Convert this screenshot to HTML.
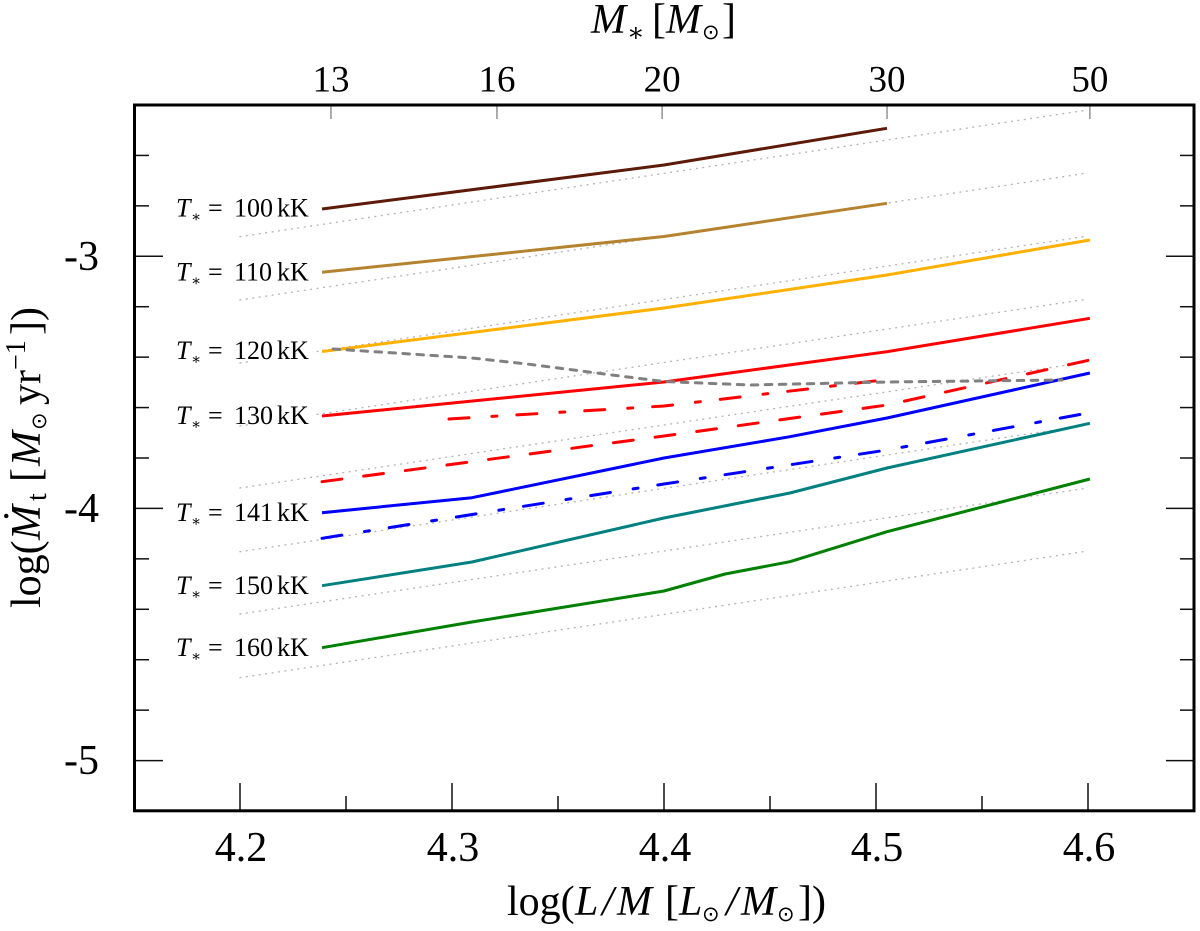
<!DOCTYPE html>
<html>
<head>
<meta charset="utf-8">
<title>Mass-loss rate versus L/M</title>
<style>
html,body{margin:0;padding:0;background:#fff;}
svg{display:block;font-family:"Liberation Serif","DejaVu Serif",serif;fill:#000;}
.sun{font-family:"DejaVu Sans",sans-serif;font-size:21px;}
.it{font-style:italic;}
</style>
</head>
<body>
<svg id="chart" xmlns="http://www.w3.org/2000/svg" width="1200" height="931" viewBox="0 0 1200 931">
  <rect x="0" y="0" width="1200" height="931" fill="#fff"/>
  <g id="dotted"></g>
  <g id="boxes"></g>
  <g id="series"></g>
  <g id="labels"></g>
  <g id="ticks"></g>
  <rect x="134.5" y="105" width="1059.5" height="705.8" fill="none" stroke="#000" stroke-width="3"/>
  <g id="ticklabels"></g>

  <text y="33" font-size="42"><tspan class="it" x="591">M</tspan><tspan font-size="26" x="627" y="41">∗</tspan><tspan x="652" y="33">[</tspan><tspan class="it" x="666">M</tspan><tspan class="sun" x="702" y="39">⊙</tspan><tspan x="722" y="33">]</tspan></text>

  <text y="915" font-size="42"><tspan x="507">log(</tspan><tspan class="it" x="575">L</tspan><tspan class="it" x="602">/</tspan><tspan class="it" x="617">M</tspan><tspan x="665">[</tspan><tspan class="it" x="679">L</tspan><tspan class="sun" x="702" y="921">⊙</tspan><tspan class="it" x="726" y="915">/</tspan><tspan class="it" x="741">M</tspan><tspan class="sun" x="777" y="921">⊙</tspan><tspan x="798" y="915">])</tspan></text>

  <g transform="translate(40,608) rotate(-90)">
    <text y="0" font-size="42"><tspan x="0">log(</tspan><tspan class="it" x="68">M</tspan><tspan x="85" y="-8">˙</tspan><tspan font-size="28" x="107" y="6">t</tspan><tspan x="126" y="0">[</tspan><tspan class="it" x="142">M</tspan><tspan class="sun" x="178" y="6">⊙</tspan><tspan x="203" y="0">yr</tspan><tspan font-size="28" x="238" y="-15">−1</tspan><tspan x="273" y="0">])</tspan></text>
  </g>
</svg>
<script>
// Axis domain
const xDomain = [4.15, 4.65];
const yDomain = [-5.2, -2.4];

// Tick values and labels
const xMajorTicks = [4.2, 4.3, 4.4, 4.5, 4.6];
const xMajorLabels = ["4.2", "4.3", "4.4", "4.5", "4.6"];
const xMinorTicks = [4.25, 4.35, 4.45, 4.55];
const yMajorTicks = [-3, -4, -5];
const yMajorLabels = ["-3", "-4", "-5"];
const yMinorTicks = [-2.6, -2.8, -3.2, -3.4, -3.6, -3.8, -4.2, -4.4, -4.6, -4.8];
const topTicks = [4.2429, 4.3212, 4.3991, 4.5052, 4.6009];
const topLabels = ["13", "16", "20", "30", "50"];

// Dotted reference lines: log Mdot at log(L/M) = 4.2 and 4.6
const dottedX = [4.2, 4.6];
const dottedStart = [-2.9223, -3.1733, -3.4232, -3.6730, -3.9189, -4.1716, -4.4187, -4.6713];
const dottedEnd = [-2.4198, -2.6696, -2.9195, -3.1694, -3.4192, -3.6691, -3.9189, -4.1688];

// Series values
const t100X = [4.2387, 4.4, 4.5052];
const t100Y = [-2.8124, -2.6379, -2.4923];
const t110X = [4.2387, 4.4, 4.5052];
const t110Y = [-3.0635, -2.9215, -2.7898];
const t120X = [4.2387, 4.4, 4.5052, 4.6009];
const t120Y = [-3.3776, -3.2050, -3.0742, -2.9354];
const t130X = [4.2387, 4.4, 4.5052, 4.6009];
const t130Y = [-3.6334, -3.4985, -3.3784, -3.2459];
const t130DashDotX = [4.2986, 4.4, 4.5033];
const t130DashDotY = [-3.6453, -3.5937, -3.4906];
const t130DashedX = [4.2387, 4.4, 4.5052, 4.6009];
const t130DashedY = [-3.8940, -3.7127, -3.5897, -3.4113];
const t141X = [4.2387, 4.3094, 4.4, 4.4594, 4.5052, 4.6009];
const t141Y = [-4.0169, -3.9574, -3.7999, -3.7155, -3.6413, -3.4628];
const t141DashDotX = [4.2387, 4.4, 4.5052, 4.6009];
const t141DashDotY = [-4.1184, -3.9031, -3.7682, -3.6203];
const t150X = [4.2387, 4.3094, 4.4, 4.4594, 4.5052, 4.6009];
const t150Y = [-4.3064, -4.2124, -4.0379, -3.9388, -3.8396, -3.6623];
const t160X = [4.2387, 4.3094, 4.4, 4.4288, 4.4594, 4.5052, 4.6009];
const t160Y = [-4.5523, -4.4504, -4.3275, -4.2600, -4.2112, -4.0923, -3.8833];
const limitX = [4.2439, 4.3094, 4.3354, 4.3792, 4.4, 4.4406, 4.5052, 4.5877];
const limitY = [-3.3677, -3.4034, -3.4271, -3.4747, -3.4966, -3.5104, -3.4985, -3.4906];

// Temperature labels: text and the log Mdot level of each baseline
const labelTemps = ["100", "110", "120", "130", "141", "150", "160"];
const labelLevels = [-2.8429, -3.0968, -3.4073, -3.6651, -4.0498, -4.3393, -4.5853];

const NS = "http://www.w3.org/2000/svg";
const xScale = v => 134 + (v - xDomain[0]) / (xDomain[1] - xDomain[0]) * 1060;
const yScale = v => 105 + (yDomain[1] - v) / (yDomain[1] - yDomain[0]) * 706;
const byId = id => document.getElementById(id);

function drawLine(parent, name, x1, y1, x2, y2, stroke, width, dash) {
  const el = document.createElementNS(NS, "line");
  
  
  el.setAttribute("x1", x1);
  el.setAttribute("y1", y1);
  el.setAttribute("x2", x2);
  el.setAttribute("y2", y2);
  el.setAttribute("stroke", stroke);
  el.setAttribute("stroke-width", width);
  if (dash) {
    el.setAttribute("stroke-dasharray", dash);
    el.setAttribute("stroke-linecap", "round");
  }
  parent.appendChild(el);
}

function drawLabel(parent, name, x, y, size, anchor, str) {
  const el = document.createElementNS(NS, "text");
  
  
  el.setAttribute("x", x);
  el.setAttribute("y", y);
  el.setAttribute("font-size", size);
  el.setAttribute("text-anchor", anchor);
  el.textContent = str;
  parent.appendChild(el);
}

function drawSeries(name, xs, ys, color, dash) {
  const el = document.createElementNS(NS, "polyline");
  
  
  el.setAttribute("points", xs.map((v, i) => xScale(v).toFixed(1) + "," + yScale(ys[i]).toFixed(1)).join(" "));
  el.setAttribute("fill", "none");
  el.setAttribute("stroke", color);
  el.setAttribute("stroke-width", "3");
  el.setAttribute("stroke-linejoin", "round");
  if (dash) {
    el.setAttribute("stroke-dasharray", dash);
    el.setAttribute("stroke-linecap", "round");
  }
  byId("series").appendChild(el);
}

// Dotted reference lines
dottedStart.forEach((v, i) => {
  drawLine(byId("dotted"), "dotted-line-" + (i + 1), xScale(dottedX[0]), yScale(v), xScale(dottedX[1]), yScale(dottedEnd[i]), "#b5b5b5", 1.4, "0.8 5.7");
});

// Ticks
const tickColor = "#111";
const yBottom = yScale(yDomain[0]);
const yTop = yScale(yDomain[1]);
const xLeft = xScale(xDomain[0]) + 1;
const xRight = xScale(xDomain[1]);
xMajorTicks.forEach(v => {
  drawLine(byId("ticks"), "x-major-tick", xScale(v), yBottom, xScale(v), yBottom - 28, tickColor, 1.5);
});
xMinorTicks.forEach(v => {
  drawLine(byId("ticks"), "x-minor-tick", xScale(v), yBottom, xScale(v), yBottom - 15, tickColor, 1.5);
});
topTicks.forEach(v => {
  drawLine(byId("ticks"), "top-tick", xScale(v), yTop, xScale(v), yTop + 14, "#777", 1.2);
});
yMajorTicks.forEach(v => {
  drawLine(byId("ticks"), "y-major-tick-left", xLeft, yScale(v), xLeft + 28, yScale(v), tickColor, 1.5);
  drawLine(byId("ticks"), "y-major-tick-right", xRight, yScale(v), xRight - 28, yScale(v), tickColor, 1.5);
});
yMinorTicks.forEach(v => {
  drawLine(byId("ticks"), "y-minor-tick-left", xLeft, yScale(v), xLeft + 14, yScale(v), tickColor, 1.5);
  drawLine(byId("ticks"), "y-minor-tick-right", xRight, yScale(v), xRight - 14, yScale(v), tickColor, 1.5);
});

// Tick labels
xMajorTicks.forEach((v, i) => {
  drawLabel(byId("ticklabels"), "x-tick-label", xScale(v) + 1, 861, 42, "middle", xMajorLabels[i]);
});
yMajorTicks.forEach((v, i) => {
  drawLabel(byId("ticklabels"), "y-tick-label", 99, yScale(v) + 13.5, 42, "end", yMajorLabels[i]);
});
topTicks.forEach((v, i) => {
  drawLabel(byId("ticklabels"), "top-tick-label", xScale(v), 91.5, 37, "middle", topLabels[i]);
});

// Series
drawSeries("line-t100", t100X, t100Y, "#5e1a08");
drawSeries("line-t110", t110X, t110Y, "#b5832f");
drawSeries("line-t120", t120X, t120Y, "#ffb000");
drawSeries("line-t130", t130X, t130Y, "#ff0000");
drawSeries("line-t130-dashdot", t130DashDotX, t130DashDotY, "#ff0000", "20 23 5 20");
drawSeries("line-t130-dashed", t130DashedX, t130DashedY, "#ff0000", "20 22");
drawSeries("line-t141", t141X, t141Y, "#0000ff");
drawSeries("line-t141-dashdot", t141DashDotX, t141DashDotY, "#0000ff", "20 23 5 20");
drawSeries("line-t150", t150X, t150Y, "#008080");
drawSeries("line-t160", t160X, t160Y, "#008000");
drawSeries("line-limit", limitX, limitY, "#808080", "6.5 7.5");

// Temperature labels
labelTemps.forEach((t, i) => {
  const base = yScale(labelLevels[i]);
  const box = document.createElementNS(NS, "rect");
  
  
  box.setAttribute("x", 248);
  box.setAttribute("y", base - 19);
  box.setAttribute("width", 64);
  box.setAttribute("height", 23);
  box.setAttribute("fill", "#fff");
  byId("boxes").appendChild(box);

  const el = document.createElementNS(NS, "text");
  
  
  el.setAttribute("y", base);
  el.setAttribute("font-size", 26);

  const tT = document.createElementNS(NS, "tspan");
  tT.setAttribute("font-style", "italic");
  tT.setAttribute("x", 176);
  tT.textContent = "T";
  el.appendChild(tT);

  const tS = document.createElementNS(NS, "tspan");
  tS.setAttribute("font-size", 15);
  tS.setAttribute("x", 191);
  tS.setAttribute("y", base + 5);
  tS.textContent = "∗";
  el.appendChild(tS);

  const tE = document.createElementNS(NS, "tspan");
  tE.setAttribute("x", 208);
  tE.setAttribute("y", base);
  tE.textContent = "=";
  el.appendChild(tE);

  const tN = document.createElementNS(NS, "tspan");
  tN.setAttribute("x", 234);
  tN.textContent = t;
  el.appendChild(tN);

  const tU = document.createElementNS(NS, "tspan");
  tU.setAttribute("x", 277);
  tU.textContent = "kK";
  el.appendChild(tU);

  byId("labels").appendChild(el);
});
</script>
</body>
</html>
